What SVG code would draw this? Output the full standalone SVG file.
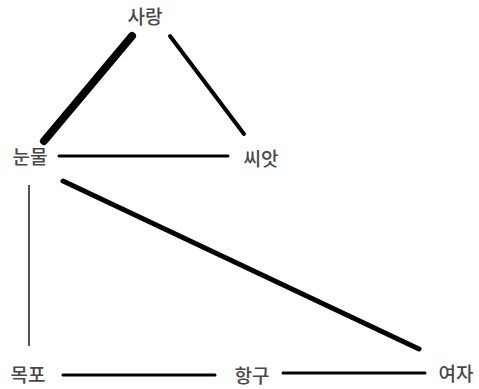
<svg xmlns="http://www.w3.org/2000/svg" width="479" height="389" viewBox="0 0 479 389">
<style>
.t{font-family:"Noto Sans CJK KR","Noto Sans",sans-serif;font-size:19px;font-weight:500;fill:#484848;text-anchor:middle}
.e{stroke:#000;stroke-linecap:round;fill:none}
</style>
<rect width="479" height="389" fill="#fff"/>
<g id="connectors">
<line class="e" x1="132" y1="36" x2="44" y2="141" stroke-width="8"/>
<line class="e" x1="170" y1="36" x2="244" y2="134" stroke-width="4"/>
<line class="e" x1="59" y1="156" x2="228" y2="156" stroke-width="3"/>
<line class="e" x1="63" y1="181" x2="419" y2="349" stroke-width="5"/>
<line x1="29" y1="185" x2="29" y2="346" stroke="#555" stroke-width="2"/>
<line class="e" x1="63" y1="375" x2="215" y2="375" stroke-width="3"/>
<line class="e" x1="283" y1="373" x2="425" y2="373" stroke-width="3"/>
</g>
<g id="n-sarang"><text class="t" x="145" y="24">사랑</text></g>
<g id="n-nunmul"><text class="t" x="30" y="164">눈물</text></g>
<g id="n-ssiat"><text class="t" x="261" y="166">씨앗</text></g>
<g id="n-mokpo"><text class="t" x="28" y="382">목포</text></g>
<g id="n-hanggu"><text class="t" x="252" y="383">항구</text></g>
<g id="n-yeoja"><text class="t" x="456" y="381">여자</text></g>
</svg>
